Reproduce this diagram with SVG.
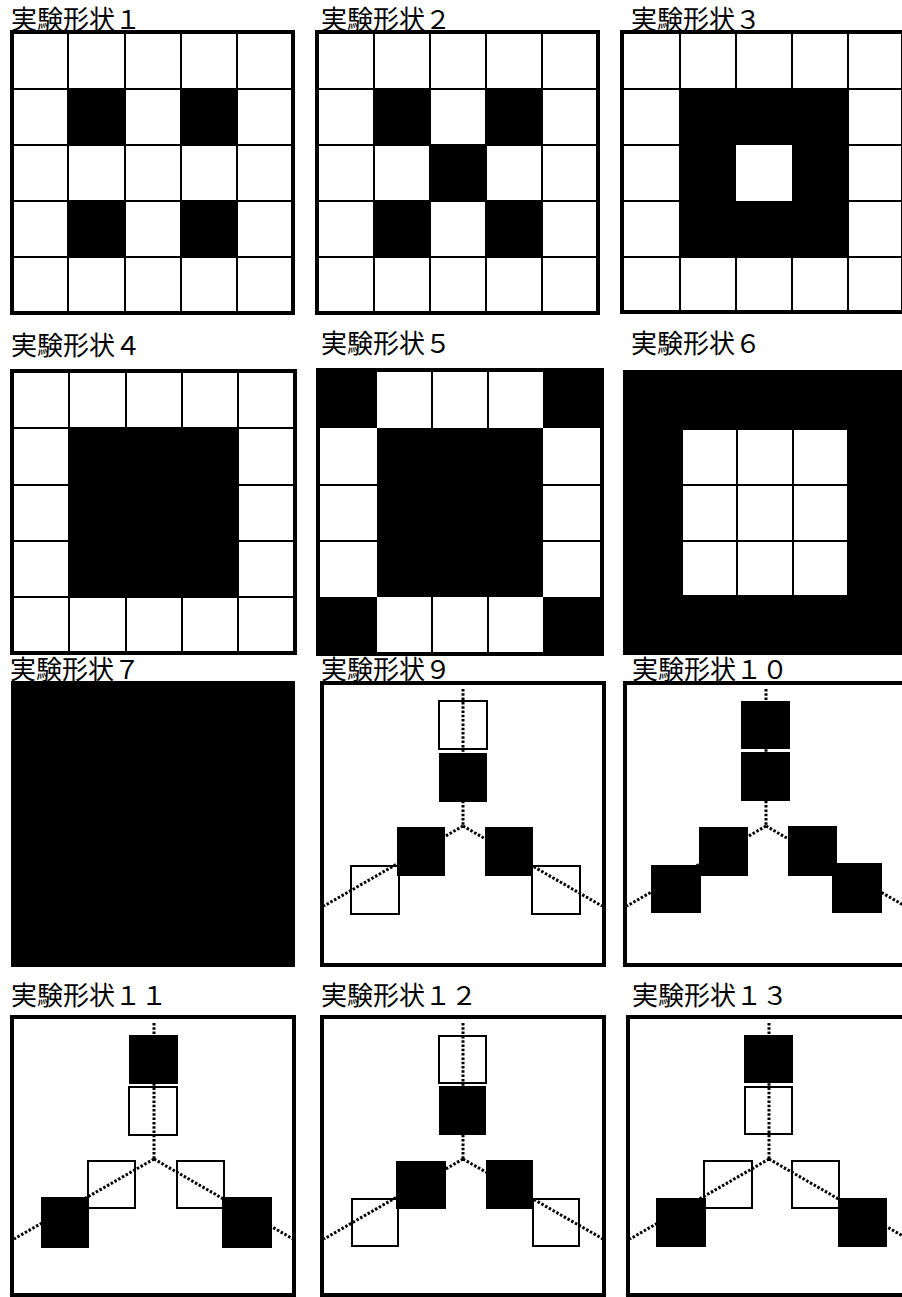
<svg xmlns="http://www.w3.org/2000/svg" width="902" height="1297" viewBox="0 0 902 1297">
<style>
.lbl{font-family:"Noto Sans CJK JP","Noto Sans CJK SC",sans-serif;font-size:26px;fill:#000}
.frame{fill:#fff;stroke:#000;stroke-width:4}
.grid{stroke:#000;stroke-width:2;fill:none}
.blk{fill:#000}
.open{fill:none;stroke:#000;stroke-width:2}
.dot{stroke:#000;stroke-width:3;stroke-dasharray:2.5 1.8;fill:none}
</style>
<rect width="902" height="1297" fill="#fff"/>

<g id="shape1">
<text class="lbl" x="11" y="29">実験形状１</text>
<rect class="frame" x="12" y="32" width="281" height="281"/>
<rect class="blk" x="68" y="89" width="57" height="56"/>
<rect class="blk" x="181" y="89" width="56" height="56"/>
<rect class="blk" x="68" y="201" width="57" height="56"/>
<rect class="blk" x="181" y="201" width="56" height="56"/>
<path class="grid" d="M68 32V313M125 32V313M181 32V313M237 32V313M12 89H293M12 145H293M12 201H293M12 257H293"/>
</g>

<g id="shape2">
<text class="lbl" x="321" y="29">実験形状２</text>
<rect class="frame" x="317" y="32" width="281" height="281"/>
<rect class="blk" x="374" y="89" width="56" height="56"/>
<rect class="blk" x="486" y="89" width="56" height="56"/>
<rect class="blk" x="430" y="145" width="56" height="56"/>
<rect class="blk" x="374" y="201" width="56" height="56"/>
<rect class="blk" x="486" y="201" width="56" height="56"/>
<path class="grid" d="M374 32V313M430 32V313M486 32V313M542 32V313M317 89H598M317 145H598M317 201H598M317 257H598"/>
</g>

<g id="shape3">
<text class="lbl" x="631" y="29">実験形状３</text>
<rect class="frame" x="622" y="32" width="281" height="280"/>
<path class="blk" fill-rule="evenodd" d="M680 89H848V257H680ZM736 145V201H792V145Z"/>
<path class="grid" d="M680 32V312M736 32V145M736 201V312M792 32V145M792 201V312M848 32V312M622 89H903M622 145H680M848 145H903M622 201H680M848 201H903M622 257H903"/>
</g>

<g id="shape4">
<text class="lbl" x="11" y="355">実験形状４</text>
<rect class="frame" x="12" y="371" width="283" height="282"/>
<rect class="blk" x="69" y="428" width="169" height="169"/>
<path class="grid" d="M69 371V653M126 371V428M126 597V653M182 371V428M182 597V653M238 371V653M12 428H295M12 485H69M238 485H295M12 541H69M238 541H295M12 597H295"/>
</g>

<g id="shape5">
<text class="lbl" x="321" y="353">実験形状５</text>
<rect class="frame" x="318" y="370" width="284" height="284" stroke-width="2"/>
<rect class="blk" x="318" y="370" width="59" height="58"/>
<rect class="blk" x="543" y="370" width="59" height="58"/>
<rect class="blk" x="318" y="597" width="59" height="57"/>
<rect class="blk" x="543" y="597" width="59" height="57"/>
<rect class="blk" x="377" y="428" width="166" height="169"/>
<path class="grid" d="M432 370V428M488 370V428M432 597V654M488 597V654M318 485H377M543 485H602M318 541H377M543 541H602"/>
</g>

<g id="shape6">
<text class="lbl" x="631" y="353">実験形状６</text>
<rect class="blk" x="623" y="370" width="282" height="285"/>
<rect fill="#fff" x="683" y="430" width="164" height="165"/>
<path class="grid" d="M737 430V595M793 430V595M683 485H847M683 541H847"/>
</g>

<g id="shape7">
<text class="lbl" x="10" y="679">実験形状７</text>
<rect class="blk" x="11" y="681" width="284" height="286"/>
</g>

<g id="shape9" transform="translate(322,683)">
<text class="lbl" x="-1" y="-4">実験形状９</text>
<rect class="frame" x="0" y="0" width="282" height="282"/>
<rect class="open" x="117" y="18" width="48" height="48"/>
<rect class="blk" x="117" y="70" width="48" height="49"/>
<rect class="blk" x="75" y="144" width="48" height="49"/>
<rect class="open" x="29" y="183" width="48" height="48"/>
<rect class="blk" x="163" y="144" width="48" height="49"/>
<rect class="open" x="210" y="183" width="48" height="48"/>
</g>

<g id="shape10" transform="translate(625,683)">
<text class="lbl" x="7" y="-4">実験形状１０</text>
<rect class="frame" x="0" y="0" width="282" height="282"/>
<rect class="blk" x="116" y="18" width="49" height="48"/>
<rect class="blk" x="116" y="69" width="49" height="49"/>
<rect class="blk" x="74" y="144" width="49" height="49"/>
<rect class="blk" x="26" y="182" width="50" height="48"/>
<rect class="blk" x="163" y="143" width="49" height="50"/>
<rect class="blk" x="207" y="180" width="50" height="50"/>
</g>

<g id="shape11" transform="translate(12,1017)">
<text class="lbl" x="-1" y="-12">実験形状１１</text>
<rect class="frame" x="0" y="0" width="282" height="278"/>
<rect class="blk" x="117" y="18" width="49" height="49"/>
<rect class="open" x="117" y="70" width="48" height="48"/>
<rect class="open" x="76" y="144" width="47" height="47"/>
<rect class="blk" x="29" y="180" width="48" height="51"/>
<rect class="open" x="165" y="144" width="47" height="47"/>
<rect class="blk" x="210" y="180" width="50" height="51"/>
</g>

<g id="shape12" transform="translate(322,1017)">
<text class="lbl" x="-1" y="-12">実験形状１２</text>
<rect class="frame" x="0" y="0" width="282" height="278"/>
<rect class="open" x="117" y="19" width="47" height="47"/>
<rect class="blk" x="117" y="69" width="47" height="49"/>
<rect class="blk" x="74" y="144" width="50" height="48"/>
<rect class="open" x="30" y="182" width="46" height="47"/>
<rect class="blk" x="164" y="143" width="47" height="49"/>
<rect class="open" x="211" y="182" width="46" height="47"/>
</g>

<g id="shape13" transform="translate(628,1017)">
<text class="lbl" x="4" y="-12">実験形状１３</text>
<rect class="frame" x="0" y="0" width="282" height="278"/>
<rect class="blk" x="116" y="18" width="49" height="48"/>
<rect class="open" x="117" y="70" width="47" height="47"/>
<rect class="open" x="76" y="144" width="48" height="47"/>
<rect class="blk" x="28" y="181" width="50" height="49"/>
<rect class="open" x="164" y="144" width="47" height="47"/>
<rect class="blk" x="210" y="181" width="49" height="49"/>
</g>

<g id="connectors">
<path class="dot" transform="translate(322,683)" d="M141 6V143M141 143L2 223M141 143L280 223"/>
<path class="dot" transform="translate(625,683)" d="M141 6V143M141 143L2 223M141 143L280 223"/>
<path class="dot" transform="translate(12,1017)" d="M142 6V142M142 142L2 222M142 142L281 222"/>
<path class="dot" transform="translate(322,1017)" d="M141 6V142M141 142L2 222M141 142L281 222"/>
<path class="dot" transform="translate(628,1017)" d="M141 6V142M141 142L2 222M141 142L280 222"/>
</g>
</svg>
